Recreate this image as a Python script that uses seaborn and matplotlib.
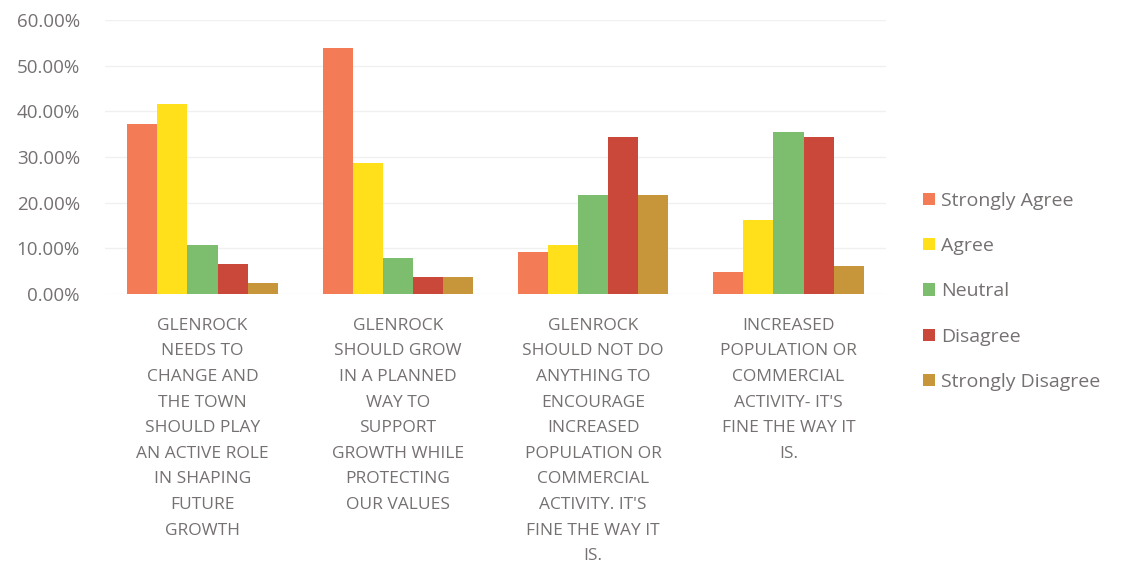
import numpy as np
import pandas as pd
import seaborn as sns
import matplotlib.pyplot as plt
from matplotlib.ticker import PercentFormatter

statements = [
    "GLENROCK\nNEEDS TO\nCHANGE AND\nTHE TOWN\nSHOULD PLAY\nAN ACTIVE ROLE\nIN SHAPING\nFUTURE\nGROWTH",
    "GLENROCK\nSHOULD GROW\nIN A PLANNED\nWAY TO\nSUPPORT\nGROWTH WHILE\nPROTECTING\nOUR VALUES",
    "GLENROCK\nSHOULD NOT DO\nANYTHING TO\nENCOURAGE\nINCREASED\nPOPULATION OR\nCOMMERCIAL\nACTIVITY. IT'S\nFINE THE WAY IT\nIS.",
    "INCREASED\nPOPULATION OR\nCOMMERCIAL\nACTIVITY- IT'S\nFINE THE WAY IT\nIS.",
]
responses = ["Strongly Agree", "Agree", "Neutral", "Disagree", "Strongly Disagree"]

strongly_agree = [37.3, 53.9, 9.3, 4.9]
agree = [41.6, 28.8, 10.7, 16.2]
neutral = [10.7, 7.9, 21.7, 35.5]
disagree = [6.6, 3.8, 34.4, 34.3]
strongly_disagree = [2.5, 3.8, 21.7, 6.2]

colors = ["#F37B55", "#FFE01A", "#7DBD6E", "#C9483A", "#C8963A"]

rows = []
for resp, vals in zip(responses, [strongly_agree, agree, neutral, disagree, strongly_disagree]):
    for st, v in zip(statements, vals):
        rows.append({"statement": st, "response": resp, "value": v})
df = pd.DataFrame(rows)

sns.set_style("white")
plt.rcParams["font.family"] = ["Open Sans", "DejaVu Sans"]
grey = "#767171"

fig = plt.figure(figsize=(11.21, 5.70), dpi=100)
ax = fig.add_axes([0.0935, 0.484, 0.697, 0.481])

sns.barplot(data=df, x="statement", y="value", hue="response",
            hue_order=responses, palette=colors, width=0.77,
            saturation=1, ax=ax, errorbar=None, linewidth=0)

ax.set_ylim(0, 60)
ax.set_yticks(np.arange(0, 61, 10))
ax.yaxis.set_major_formatter(PercentFormatter(decimals=2))
ax.grid(axis="y", color="#F0F0F0", linewidth=1)
ax.set_axisbelow(True)
for s in ax.spines.values():
    s.set_visible(False)
ax.set_xlabel("")
ax.set_ylabel("")
ax.tick_params(axis="y", labelsize=13.5, colors=grey, length=0, pad=18)
ax.tick_params(axis="x", labelsize=12.5, colors=grey, length=0, pad=17)
for lbl in ax.get_xticklabels():
    lbl.set_linespacing(1.8)
    lbl.set_verticalalignment("top")

handles, labels = ax.get_legend_handles_labels()
ax.legend(handles, labels, loc="center left", bbox_to_anchor=(1.025, 0.01),
          frameon=False, fontsize=14, labelcolor=grey, handlelength=0.6,
          handleheight=0.6, handletextpad=0.3, labelspacing=1.4)

fig.savefig("out.png", dpi=100)
